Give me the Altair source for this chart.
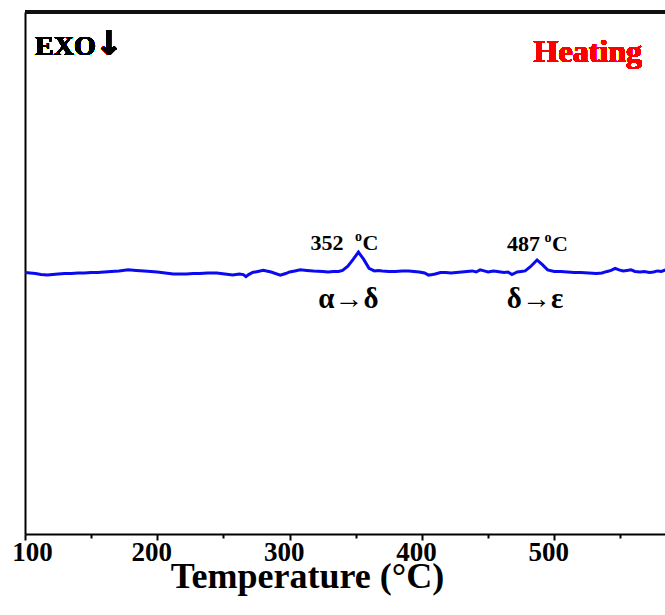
import altair as alt
import pandas as pd

# ---- data ----
temps = [100, 104, 108, 112, 117, 121, 125, 130, 135, 140, 145, 150, 155, 160, 165, 171,
         178, 184, 190, 195, 200, 206, 212, 217, 222, 227, 232, 238, 245, 251,
         257, 262, 265, 267, 269, 272, 276, 280, 286, 293, 297, 300, 304, 308, 313, 318,
         325, 329, 333, 337, 340, 344, 348, 352,
         356, 360, 364, 367, 370, 375, 380, 385, 390, 394, 398, 402, 405, 408, 410, 414,
         418, 422, 426, 430, 434, 438, 441, 444, 447, 450,
         454, 457, 462, 465, 468, 472, 475, 478, 482, 487, 491, 495, 500, 505, 510, 515,
         520, 526, 532, 536, 540, 543, 546, 549,
         552, 555, 558, 561, 565, 568, 572, 575, 578, 581, 584]
heat = [50.1, 50.0, 49.9, 49.7, 49.6, 49.7, 49.8, 49.9, 49.9, 50.0, 50.0, 50.1, 50.1, 50.2, 50.3, 50.4,
        50.6, 50.5, 50.4, 50.3, 50.2, 50.0, 49.8, 49.8, 49.8, 49.9, 49.9, 50.0, 50.0, 49.8,
        49.6, 49.8, 49.7, 49.3, 49.7, 50.1, 50.3, 50.5, 50.2, 49.6, 49.9, 50.2, 50.4, 50.6, 50.5, 50.4,
        50.3, 50.2, 50.3, 50.3, 50.5, 51.3, 52.6, 54.0,
        52.6, 50.9, 50.4, 50.5, 50.4, 50.3, 50.3, 50.4, 50.4, 50.3, 50.2, 50.0, 49.6, 49.7, 49.8, 50.1,
        50.1, 50.0, 50.1, 50.2, 50.3, 50.4, 50.2, 50.6, 50.4, 50.2,
        50.4, 50.3, 50.1, 50.2, 49.7, 50.2, 50.3, 50.4, 51.2, 52.5, 51.6, 50.6, 50.3, 50.3, 50.2, 50.1,
        50.1, 50.0, 49.9, 50.0, 50.3, 50.5, 50.9, 50.6,
        50.4, 50.5, 50.6, 50.3, 50.2, 50.3, 50.1, 50.2, 50.4, 50.3, 50.6]

tick_values = [100, 150, 200, 250, 300, 350, 400, 450, 500, 550]
x_domain = [100, 583.7]
y_domain = [0, 100]

peak_temps = [352, 487]
peak_heat = [54.0, 52.5]
peak_labels = ["352", "487"]
transition_labels = ["α→δ", "δ→ε"]

W, H = 640, 522
FONT = "Liberation Serif"

df = pd.DataFrame({"T": temps, "Q": heat})
peaks = pd.DataFrame({"T": peak_temps, "Q": peak_heat, "num": peak_labels,
                      "trans": transition_labels})

xs = alt.Scale(domain=x_domain, nice=False, zero=False)
ys = alt.Scale(domain=y_domain, nice=False, zero=False)

line = alt.Chart(df).mark_line(color="#0a0af0", strokeWidth=3, clip=True).encode(
    x=alt.X("T:Q", scale=xs,
            axis=alt.Axis(values=tick_values,
                          labelExpr="datum.value % 100 === 0 ? datum.label : ''",
                          labelFont=FONT, labelFontSize=27, labelFontWeight="bold",
                          labelColor="black", labelPadding=-1,
                          labelOffset=alt.ExprRef(expr="datum.value === 100 ? 7 : -6"),
                          labelFlush=False, labelBound=False,
                          tickSize=alt.ExprRef(expr="datum.value % 100 === 0 ? 6 : 4"),
                          tickColor="black", tickWidth=2,
                          domainColor="black", domainWidth=2, grid=False,
                          title="Temperature (°C)", titleFont=FONT, titleFontSize=36,
                          titleFontWeight="bold", titleColor="black",
                          titleX=282, titleY=53, titleBaseline="alphabetic",
                          titleAlign="center")),
    y=alt.Y("Q:Q", scale=ys,
            axis=alt.Axis(labels=False, ticks=False, grid=False, title=None,
                          domainColor="black", domainWidth=2)),
)

top_border = alt.Chart(df).mark_rule(color="#111111", strokeWidth=3).encode(
    x=alt.value(0), x2=alt.value(W), y=alt.value(0)
)

base_p = alt.Chart(peaks)

num_text = alt.layer(
    base_p.transform_filter("datum.T == 352").mark_text(
        font=FONT, fontSize=22, fontWeight="bold", align="right",
        baseline="alphabetic", color="black", dx=-15, dy=-2
    ).encode(x=alt.X("T:Q", scale=xs), y=alt.Y("Q:Q", scale=ys), text="num:N"),
    base_p.transform_filter("datum.T == 487").mark_text(
        font=FONT, fontSize=22, fontWeight="bold", align="right",
        baseline="alphabetic", color="black", dx=3, dy=-9
    ).encode(x=alt.X("T:Q", scale=xs), y=alt.Y("Q:Q", scale=ys), text="num:N"),
)

def sup_o(temp, dx, dy):
    return base_p.transform_filter(f"datum.T == {temp}").mark_text(
        font=FONT, fontSize=14, fontWeight="bold", align="center",
        baseline="alphabetic", color="black", dx=dx, dy=dy
    ).encode(x=alt.X("T:Q", scale=xs), y=alt.Y("Q:Q", scale=ys), text=alt.value("o"))

def cel(temp, dx, dy):
    return base_p.transform_filter(f"datum.T == {temp}").mark_text(
        font=FONT, fontSize=22, fontWeight="bold", align="left",
        baseline="alphabetic", color="black", dx=dx, dy=dy
    ).encode(x=alt.X("T:Q", scale=xs), y=alt.Y("Q:Q", scale=ys), text=alt.value("C"))

units = alt.layer(sup_o(352, 0, -11), cel(352, 4, -2), sup_o(487, 11, -18), cel(487, 15, -9))

trans_text = alt.layer(
    base_p.transform_filter("datum.T == 352").mark_text(
        font=FONT, fontSize=29, fontWeight="bold", align="center",
        baseline="alphabetic", color="black", dx=-10, dy=56
    ).encode(x=alt.X("T:Q", scale=xs), y=alt.Y("Q:Q", scale=ys), text="trans:N"),
    base_p.transform_filter("datum.T == 487").mark_text(
        font=FONT, fontSize=29, fontWeight="bold", align="center",
        baseline="alphabetic", color="black", dx=-2, dy=48
    ).encode(x=alt.X("T:Q", scale=xs), y=alt.Y("Q:Q", scale=ys), text="trans:N"),
)

exo = alt.Chart(df).mark_text(font=FONT, fontSize=28, fontWeight="bold", align="left",
                              baseline="alphabetic", color="black").encode(
    x=alt.value(10), y=alt.value(43), text=alt.value("EXO")
)
arrow = alt.Chart(df).mark_text(font="DejaVu Sans", fontSize=34, fontWeight="bold",
                                align="center", baseline="middle", color="black").encode(
    x=alt.value(84), y=alt.value(33), text=alt.value("↓")
)
heating = alt.Chart(df).mark_text(font=FONT, fontSize=32, fontWeight="bold", align="right",
                                  baseline="alphabetic", color="#ff0000").encode(
    x=alt.value(617), y=alt.value(50), text=alt.value("Heating")
)

chart = alt.layer(line, top_border, num_text, units, trans_text, exo, arrow, heating).properties(
    width=W, height=H,
    autosize=alt.AutoSizeParams(type="none"),
    padding={"left": 25, "top": 12, "right": 0, "bottom": 81},
    background="white",
).configure_view(stroke=None)

chart.save("out.html", embed_options={"renderer": "svg", "actions": False})
